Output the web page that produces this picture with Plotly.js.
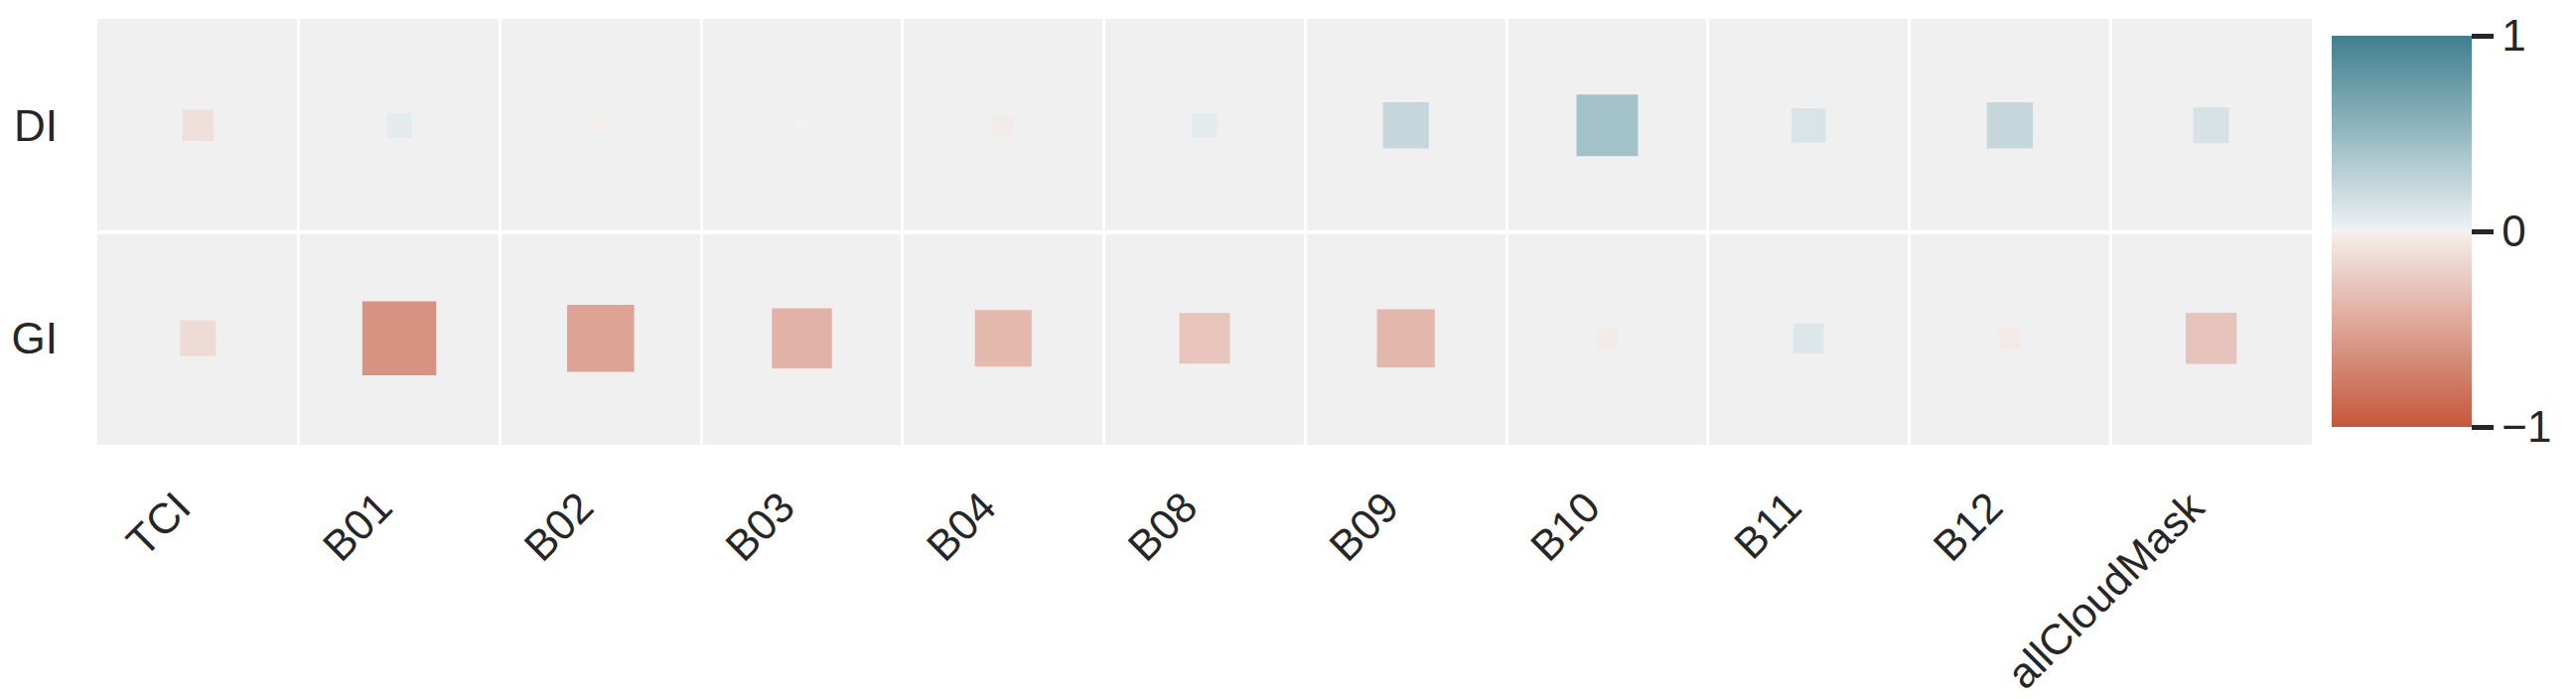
<!DOCTYPE html>
<html>
<head>
<meta charset="utf-8">
<script src="https://cdn.plot.ly/plotly-3.0.1.min.js"></script>
<style>
  html, body { margin: 0; padding: 0; background: #ffffff; }
  #chart { width: 2594px; height: 704px; }
</style>
</head>
<body>
<div id="chart"></div>
<script>
// ---- data ----
const categories = ['TCI', 'B01', 'B02', 'B03', 'B04', 'B08', 'B09', 'B10', 'B11', 'B12', 'allCloudMask'];
const rowLabels = ['DI', 'GI'];
const diValues = [-0.10, 0.06, -0.015, 0.0, -0.035, 0.06, 0.23, 0.42, 0.125, 0.23, 0.135];
const giValues = [-0.135, -0.61, -0.50, -0.40, -0.355, -0.28, -0.37, -0.035, 0.095, -0.04, -0.285];
const colorTicks = [-1, 0, 1];
const colorTickText = ['\u22121', '0', '1'];

// ---- build the trace ----
const xs = [], ys = [], vals = [];
[diValues, giValues].forEach((row, r) => {
  row.forEach((v, i) => { xs.push(categories[i]); ys.push(rowLabels[r]); vals.push(v); });
});
const SIZE_SCALE = 95; // side of a square at |value| = 1, px
const sizes = vals.map(v => SIZE_SCALE * Math.sqrt(0.99 * Math.abs(v) + 0.01));

const colorscale = [
  [0.0, '#C4573B'],
  [0.49606, '#F5EEEC'],
  [0.5, '#F2F2F2'],
  [0.50394, '#ECF1F3'],
  [1.0, '#3F7F8F']
];

const font = 'Liberation Sans, Arial, Helvetica, sans-serif';
const textColor = '#262626';

// plot area in pixels: x 98..2328, y 19..448
const PL = 98, PR = 2328, PT = 19, PB = 448;
const PW = PR - PL, PH = PB - PT;

const trace = {
  type: 'scatter',
  mode: 'markers',
  x: xs,
  y: ys,
  hoverinfo: 'skip',
  marker: {
    symbol: 'square',
    size: sizes,
    color: vals,
    colorscale: colorscale,
    cmin: -1,
    cmax: 1,
    opacity: 1,
    line: { width: 0 },
    showscale: true,
    colorbar: {
      xref: 'paper', x: (2348 - PL) / PW, xanchor: 'left', xpad: 0,
      yref: 'paper', y: (PB - 430) / PH, yanchor: 'bottom', ypad: 0,
      thickness: 141, thicknessmode: 'pixels',
      len: (430 - 36) / PH, lenmode: 'fraction',
      outlinewidth: 0,
      tickmode: 'array', tickvals: colorTicks, ticktext: colorTickText,
      ticks: 'outside', ticklen: 22, tickwidth: 5, tickcolor: textColor,
      tickfont: { family: font, size: 44, color: textColor }
    }
  }
};

const layout = {
  width: 2594,
  height: 704,
  margin: { l: PL, r: 2594 - PR, t: PT, b: 704 - PB, autoexpand: false },
  paper_bgcolor: '#ffffff',
  plot_bgcolor: '#F0F0F0',
  showlegend: false,
  font: { family: font, size: 44, color: textColor },
  xaxis: {
    type: 'category',
    categoryorder: 'array',
    categoryarray: categories,
    range: [-0.5, categories.length - 0.5],
    tickson: 'boundaries',
    showgrid: true, gridcolor: '#ffffff', gridwidth: 3,
    zeroline: false, showline: false,
    ticks: '',
    tickangle: -45,
    ticklabelstandoff: 28,
    ticklabelshift: -20,
    tickfont: { family: font, size: 43, color: textColor },
    fixedrange: true
  },
  yaxis: {
    type: 'category',
    categoryorder: 'array',
    categoryarray: rowLabels.slice().reverse(),
    range: [-0.5, rowLabels.length - 0.5],
    tickson: 'boundaries',
    showgrid: true, gridcolor: '#ffffff', gridwidth: 4,
    zeroline: false, showline: false,
    ticks: '',
    ticklabelstandoff: 39,
    tickfont: { family: font, size: 44, color: textColor },
    fixedrange: true
  }
};

Plotly.newPlot('chart', [trace], layout, { displayModeBar: false, staticPlot: true });
</script>
</body>
</html>
